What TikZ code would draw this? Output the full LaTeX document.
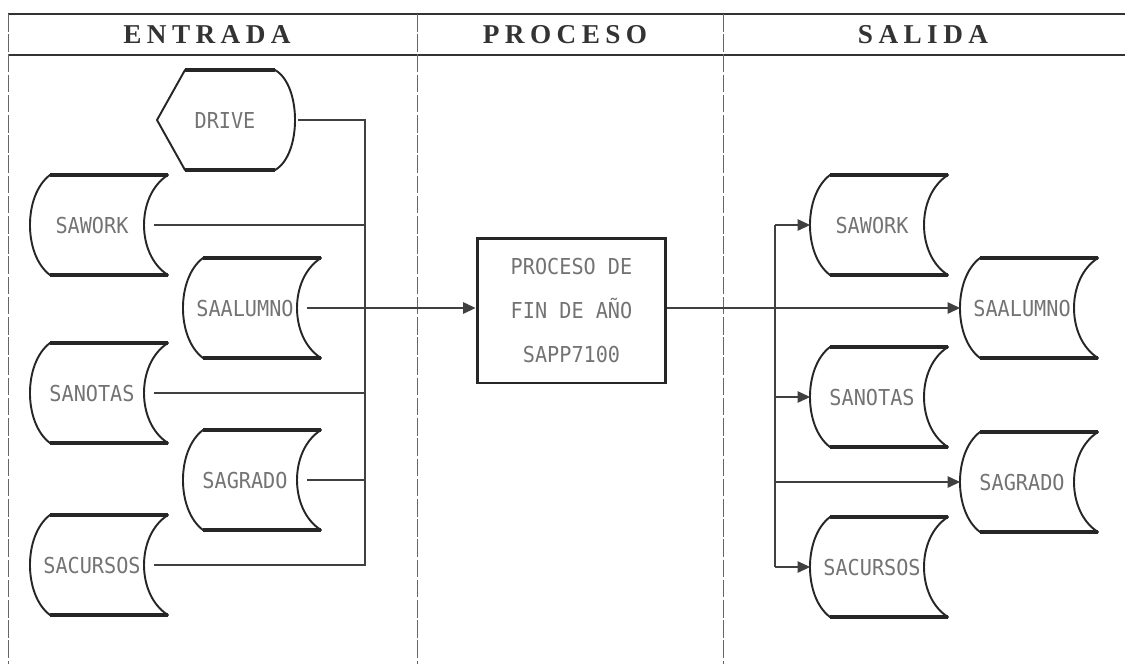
\documentclass[tikz,border=0pt]{standalone}
\usepackage{fontspec}
\usetikzlibrary{arrows.meta}
\newfontfamily\dotfont{DejaVu Sans Mono}[FakeStretch=0.92]
\newfontfamily\headfont{Liberation Serif}[LetterSpace=20]
\tikzset{
  frameline/.style={line width=0.8pt, black!80},
  divider/.style={line width=0.5pt, black!60, dash pattern=on 10pt off 1.5pt},
  shapeline/.style={line width=1.1pt, black!85, line join=round},
  edgeline/.style={line width=1.8pt, black!85},
  conn/.style={line width=0.6pt, black!75},
  arr/.style={-{Triangle[length=7pt,width=6.5pt]}},
  datatext/.style={font=\dotfont\fontsize{12.5}{15}\selectfont, text=black!55, inner sep=0pt},
  headtext/.style={font=\headfont\bfseries\fontsize{15.5}{18}\selectfont, text=black!80, inner sep=0pt},
  procbox/.style={draw=black!85, line width=1.7pt, minimum width=3.78cm, minimum height=2.9cm,
    align=center, font=\dotfont\fontsize{12.5}{25}\selectfont, text=black!55},
  store/.pic={
    \draw[shapeline] (0,0) .. controls (-26.7,20) and (-26.7,80) .. (0,100) -- (118,100)
       .. controls (86,80) and (86,20) .. (118,0) -- cycle;
    \draw[edgeline] (0,0) -- (118,0) (0,100) -- (118,100);
    \node[datatext] (-t) at (42,50) {#1};
    \coordinate (-in) at (-20,50);
    \coordinate (-out) at (104,50);
  }
}
\begin{document}
\begin{tikzpicture}[x=0.02cm,y=-0.02cm]
\useasboundingbox (0,0) rectangle (1125,664);
% frame
\draw[frameline] (8,14) -- (1125,14);
\draw[frameline] (8,55) -- (1125,55);
\draw[divider] (8,14) -- (8,664);
\draw[divider] (417,14) -- (417,664);
\draw[divider] (723,14) -- (723,664);
\node[headtext] (hin) at (207,35) {ENTRADA};
\node[headtext] (hpr) at (565,35) {PROCESO};
\node[headtext] (hout) at (923,35) {SALIDA};
% drive
\draw[shapeline] (185,70) -- (275,70) .. controls (301.7,85) and (301.7,155) .. (275,170)
   -- (185,170) -- (157,120) -- cycle;
\draw[edgeline] (185,70) -- (275,70) (185,170) -- (275,170);
\node[datatext] (drv) at (225,120) {DRIVE};
\coordinate (drvout) at (298,120);
% left column
\pic (lwk) at (50,175) {store=SAWORK};
\pic (lal) at (203,258) {store=SAALUMNO};
\pic (lno) at (50,343) {store=SANOTAS};
\pic (lgr) at (203,430) {store=SAGRADO};
\pic (lcu) at (50,515) {store=SACURSOS};
% process
\node[procbox] (proc) at (571.5,310.5) {PROCESO DE\\FIN DE AÑO\\SAPP7100};
% right column
\pic (rwk) at (830,175) {store=SAWORK};
\pic (ral) at (980,258) {store=SAALUMNO};
\pic (rno) at (830,347) {store=SANOTAS};
\pic (rgr) at (980,432) {store=SAGRADO};
\pic (rcu) at (830,517) {store=SACURSOS};
% buses
\coordinate (busL) at (365,0);
\coordinate (busR) at (775,0);
% left connectors
\draw[conn] (drvout) -| (busL |- lcu-out) -- (lcu-out);
\draw[conn] (lwk-out) -- (lwk-out -| busL);
\draw[conn] (lno-out) -- (lno-out -| busL);
\draw[conn] (lgr-out) -- (lgr-out -| busL);
\draw[conn,arr] (lal-out) -- (lal-out -| proc.west);
% right connectors
\draw[conn,arr] (proc.east |- ral-in) -- (ral-in);
\draw[conn] (busR |- rwk-in) -- (busR |- rcu-in);
\draw[conn,arr] (busR |- rwk-in) -- (rwk-in);
\draw[conn,arr] (busR |- rno-in) -- (rno-in);
\draw[conn,arr] (busR |- rgr-in) -- (rgr-in);
\draw[conn,arr] (busR |- rcu-in) -- (rcu-in);
\end{tikzpicture}
\end{document}
